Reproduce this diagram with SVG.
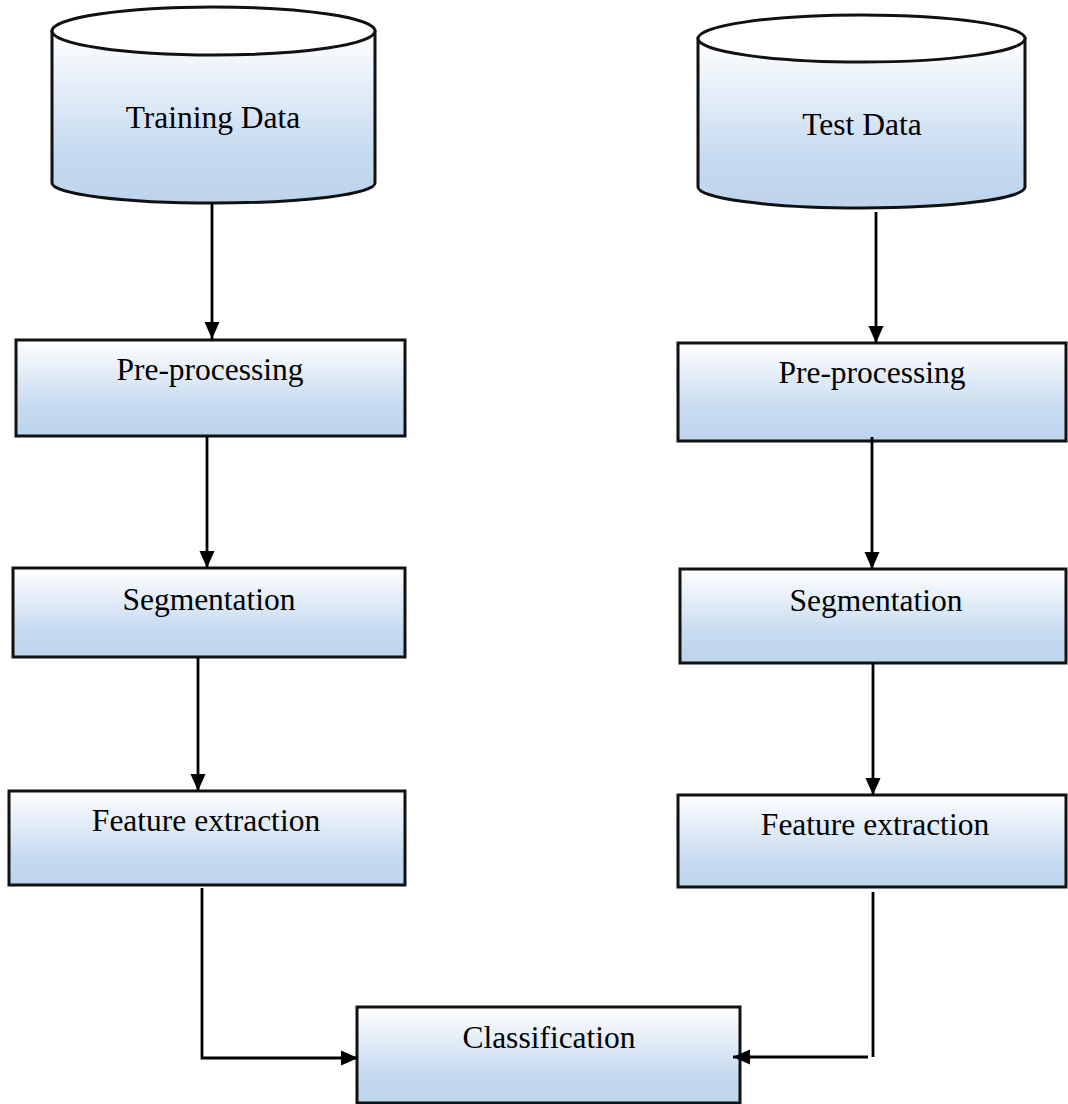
<svg xmlns="http://www.w3.org/2000/svg" width="1068" height="1104" viewBox="0 0 1068 1104">
<defs>
<linearGradient id="gb" x1="0" y1="0" x2="0" y2="1">
<stop offset="0" stop-color="#ffffff"/>
<stop offset="0.7" stop-color="#c6daf0"/>
<stop offset="1" stop-color="#bdd4ed"/>
</linearGradient>
<marker id="ah" markerUnits="userSpaceOnUse" markerWidth="18" markerHeight="18" viewBox="0 0 18 18" refX="17" refY="9" orient="auto">
<path d="M0,1.5 L17,9 L0,16.5 Z" fill="#000"/>
</marker>
</defs>
<style>
.box{fill:url(#gb);stroke:#111;stroke-width:3}
.top{fill:#fff;stroke:#111;stroke-width:3}
.lbl{font-family:"Liberation Serif","Times New Roman",serif;font-size:31.5px;fill:#000;text-anchor:middle}
.con{fill:none;stroke:#000;stroke-width:2.8}
</style>
<g id="training-data">
<path class="box" d="M52,31 L52,183 A161.5,20 0 0 0 375,183 L375,31 Z"/>
<ellipse class="top" cx="213.5" cy="31" rx="161.5" ry="24"/>
<text class="lbl" x="213" y="128">Training Data</text>
</g>
<g id="test-data">
<path class="box" d="M698,38.5 L698,187 A163.5,21 0 0 0 1025,187 L1025,38.5 Z"/>
<ellipse class="top" cx="861.5" cy="38.5" rx="163.5" ry="23.5"/>
<text class="lbl" x="862" y="135">Test Data</text>
</g>
<g id="preproc-left">
<rect class="box" x="16" y="340" width="389" height="96"/>
<text class="lbl" x="210" y="380">Pre-processing</text>
</g>
<g id="preproc-right">
<rect class="box" x="678" y="343" width="388" height="98"/>
<text class="lbl" x="872" y="383">Pre-processing</text>
</g>
<g id="seg-left">
<rect class="box" x="13" y="568" width="392" height="89"/>
<text class="lbl" x="209" y="610">Segmentation</text>
</g>
<g id="seg-right">
<rect class="box" x="680" y="569" width="386" height="94"/>
<text class="lbl" x="876" y="611">Segmentation</text>
</g>
<g id="feat-left">
<rect class="box" x="9" y="791" width="396" height="94"/>
<text class="lbl" x="206" y="831">Feature extraction</text>
</g>
<g id="feat-right">
<rect class="box" x="678" y="795" width="388" height="92"/>
<text class="lbl" x="875" y="835">Feature extraction</text>
</g>
<g id="classification">
<rect class="box" x="357" y="1007" width="383" height="96"/>
<text class="lbl" x="549" y="1048">Classification</text>
</g>
<g id="connectors">
<path class="con" d="M212,203 V339" marker-end="url(#ah)"/>
<path class="con" d="M876,212 V343" marker-end="url(#ah)"/>
<path class="con" d="M207,436 V568" marker-end="url(#ah)"/>
<path class="con" d="M872,437 V569" marker-end="url(#ah)"/>
<path class="con" d="M198,657 V791" marker-end="url(#ah)"/>
<path class="con" d="M873,663 V795" marker-end="url(#ah)"/>
<path class="con" d="M202,888 V1058 H358" marker-end="url(#ah)"/>
<path class="con" d="M873,892 V1057"/>
<path class="con" d="M868,1057 H733" marker-end="url(#ah)"/>
</g>
</svg>
